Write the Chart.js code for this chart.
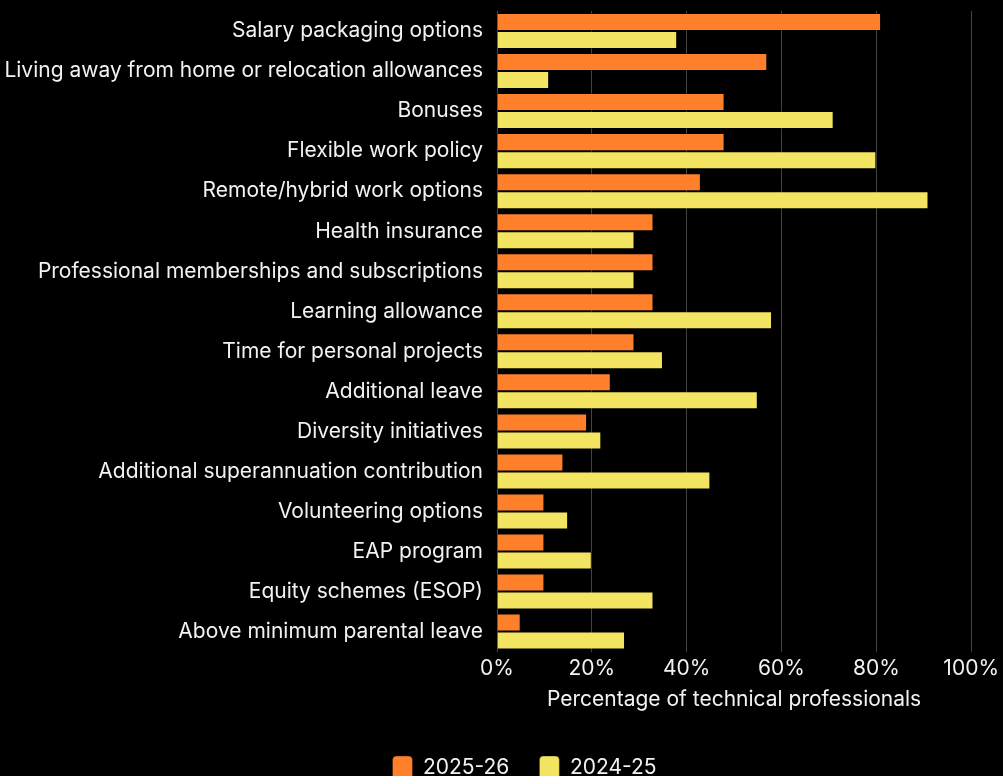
<!DOCTYPE html>
<html>
<head>
<meta charset="utf-8">
<script src="https://cdn.jsdelivr.net/npm/chart.js@4/dist/chart.umd.min.js"></script>
<style>
  html, body { margin: 0; padding: 0; background: #000; overflow: hidden; }
  #wrap { width: 1003px; height: 790px; }
</style>
</head>
<body>
<div id="wrap"><canvas id="benefitsChart"></canvas></div>
<script>
const categories = [
  'Salary packaging options',
  'Living away from home or relocation allowances',
  'Bonuses',
  'Flexible work policy',
  'Remote/hybrid work options',
  'Health insurance',
  'Professional memberships and subscriptions',
  'Learning allowance',
  'Time for personal projects',
  'Additional leave',
  'Diversity initiatives',
  'Additional superannuation contribution',
  'Volunteering options',
  'EAP program',
  'Equity schemes (ESOP)',
  'Above minimum parental leave'
];
const values2025 = [81, 57, 48, 48, 43, 33, 33, 33, 29, 24, 19, 14, 10, 10, 10, 5];
const values2024 = [38, 11, 71, 80, 91, 29, 29, 58, 35, 55, 22, 45, 15, 20, 33, 27];
const xTicks = [0, 20, 40, 60, 80, 100];

const textColor = '#f2f2f2';
const fontFamily = 'Inter, Roboto, sans-serif';

// legend in the original sits a bit right of centre
const legendShift = {
  id: 'legendShift',
  afterLayout(chart) {
    chart.legend.left += 25;
    chart.legend.right += 25;
  }
};

const ctx = document.getElementById('benefitsChart').getContext('2d');
new Chart(ctx, {
  type: 'bar',
  data: {
    labels: categories,
    datasets: [
      { label: '2025-26', data: values2025, backgroundColor: '#ff7f2a', borderColor: 'rgba(0,0,0,0.35)', borderWidth: 1, categoryPercentage: 0.9, barPercentage: 1.0 },
      { label: '2024-25', data: values2024, backgroundColor: '#f3e562', borderColor: 'rgba(0,0,0,0.35)', borderWidth: 1, categoryPercentage: 0.9, barPercentage: 1.0 }
    ]
  },
  options: {
    indexAxis: 'y',
    responsive: true,
    maintainAspectRatio: false,
    animation: false,
    layout: { padding: { top: 11, right: 4, bottom: 0, left: 0 } },
    plugins: {
      legend: {
        position: 'bottom',
        labels: {
          color: textColor,
          font: { family: fontFamily, size: 21 },
          boxWidth: 20,
          boxHeight: 24,
          useBorderRadius: true,
          borderRadius: 4,
          padding: 30
        }
      },
      tooltip: { enabled: false }
    },
    scales: {
      x: {
        min: 0,
        max: 100,
        afterBuildTicks: scale => { scale.ticks = xTicks.map(v => ({ value: v })); },
        ticks: { color: textColor, font: { family: fontFamily, size: 21 }, callback: v => v + '%', padding: 4 },
        grid: { color: '#444', drawTicks: false, lineWidth: 1 },
        border: { display: false },
        title: { display: true, text: 'Percentage of technical professionals', color: textColor, font: { family: fontFamily, size: 21 }, padding: { top: 2, bottom: 14 } }
      },
      y: {
        afterFit: scale => { scale.width = 497; scale.paddingTop = 0; scale.paddingBottom = 0; },
        ticks: { color: textColor, font: { family: fontFamily, size: 21 }, padding: 14, autoSkip: false },
        grid: { display: false, drawTicks: false },
        border: { display: false }
      }
    }
  },
  plugins: [legendShift]
});
</script>
</body>
</html>
